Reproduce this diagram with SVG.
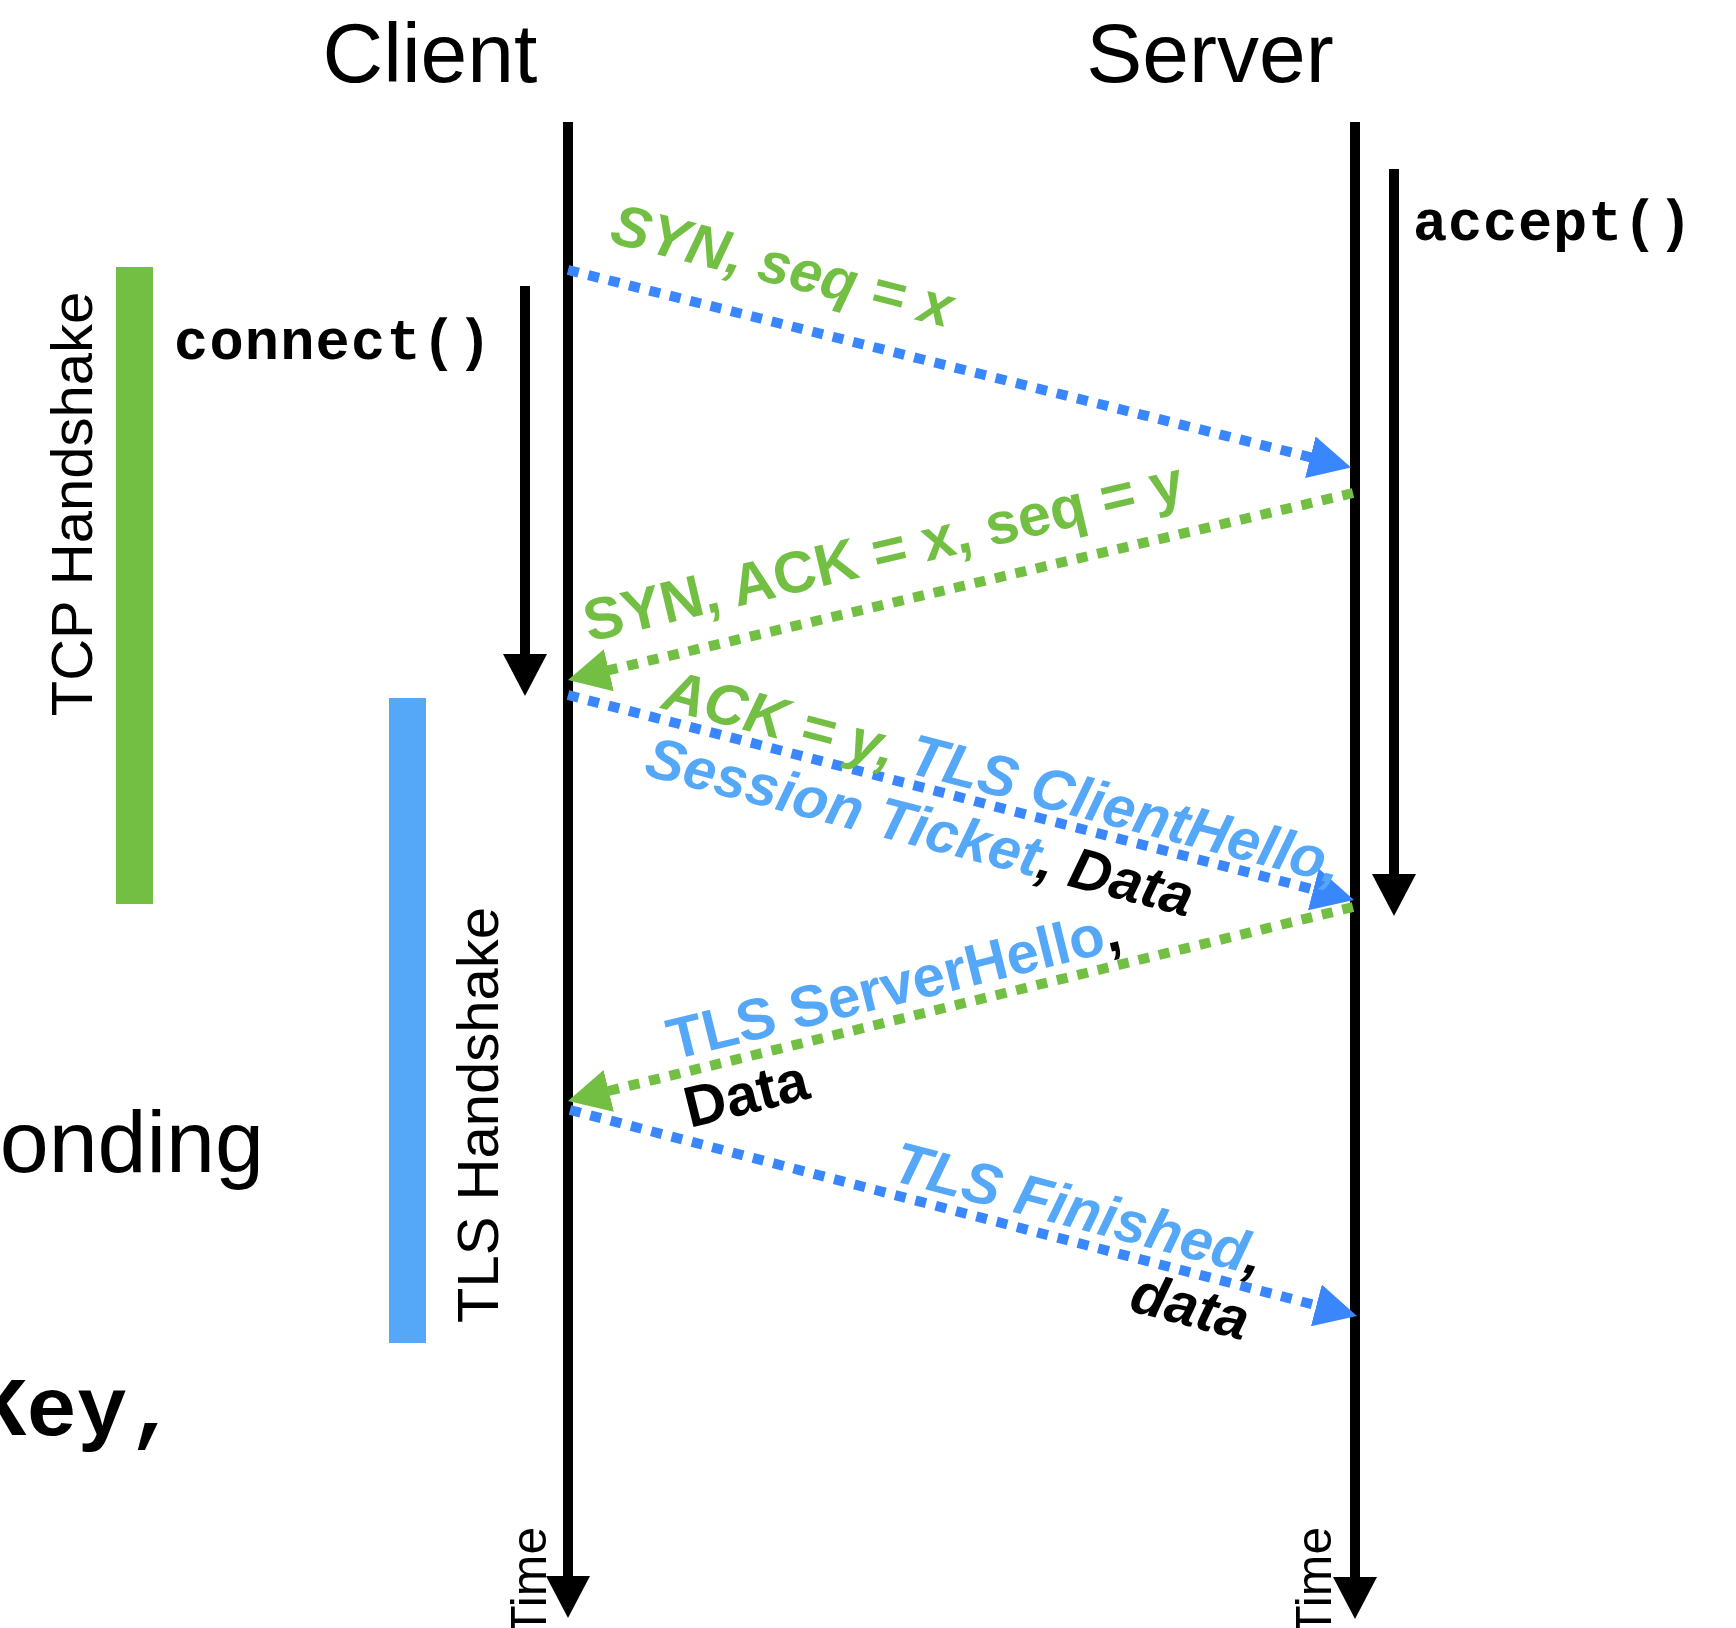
<svg xmlns="http://www.w3.org/2000/svg" width="1736" height="1628" viewBox="0 0 1736 1628">
<defs>
<style>
.sans{font-family:"Liberation Sans",Arial,Helvetica,sans-serif}
.mono{font-family:"Liberation Mono","Courier New",monospace;font-weight:bold}
.lbl{font-family:"Liberation Sans",Arial,Helvetica,sans-serif;font-weight:bold;font-size:58px}
.it{font-style:italic}
.g{fill:#72BF44}
.b{fill:#55A8F8}
.k{fill:#000000}
.life{stroke:#000000;stroke-width:10;fill:none}
.msg{fill:none;stroke-width:10;stroke-dasharray:11 10}
.mb{stroke:#3A87FD}
.mg{stroke:#72BF44}
</style>
<marker id="hb" markerUnits="userSpaceOnUse" markerWidth="42" markerHeight="43" viewBox="0 0 42 43" refX="2" refY="21.5" orient="auto"><path d="M0,0 L42,21.5 L0,43 Z" fill="#3A87FD"/></marker>
<marker id="hg" markerUnits="userSpaceOnUse" markerWidth="42" markerHeight="43" viewBox="0 0 42 43" refX="2" refY="21.5" orient="auto"><path d="M0,0 L42,21.5 L0,43 Z" fill="#72BF44"/></marker>
<marker id="hk" markerUnits="userSpaceOnUse" markerWidth="42" markerHeight="44" viewBox="0 0 42 44" refX="2" refY="22" orient="auto"><path d="M0,0 L42,22 L0,44 Z" fill="#000000"/></marker>
</defs>
<rect width="1736" height="1628" fill="#FFFFFF"/>

<g id="client">
<text class="sans" x="430" y="82" font-size="84" text-anchor="middle">Client</text>
<path class="life" d="M568,122 V1578" marker-end="url(#hk)"/>
<text class="sans" font-size="50" transform="translate(546,1636) rotate(-90)">Time</text>
</g>
<g id="server">
<text class="sans" x="1210" y="82" font-size="84" text-anchor="middle">Server</text>
<path class="life" d="M1355,122 V1579" marker-end="url(#hk)"/>
<text class="sans" font-size="50" transform="translate(1331,1636) rotate(-90)">Time</text>
</g>

<g id="tcp-handshake">
<rect x="116" y="267" width="37" height="637" fill="#72BF44"/>
<text class="sans" font-size="58" text-anchor="middle" transform="translate(92,504) rotate(-90)">TCP Handshake</text>
</g>
<g id="tls-handshake">
<rect x="389" y="698" width="37" height="645" fill="#55A8F8"/>
<text class="sans" font-size="58" text-anchor="middle" transform="translate(498,1115) rotate(-90)">TLS Handshake</text>
</g>

<g id="connect">
<text class="mono" x="174" y="359" font-size="57" letter-spacing="1.2">connect()</text>
<path class="life" d="M525,286 V656" marker-end="url(#hk)"/>
</g>
<g id="accept">
<text class="mono" x="1413" y="240" font-size="57" letter-spacing="0.8">accept()</text>
<path class="life" d="M1394,169 V876" marker-end="url(#hk)"/>
</g>

<g id="background-text">
<text class="sans" x="264" y="1172" font-size="88" text-anchor="end">onding</text>
<text class="mono" x="-24" y="1435" font-size="84">Key,</text>
</g>

<g id="connectors">
<path class="msg mb" d="M568,270 L1312.3,457.7" marker-end="url(#hb)"/>
<path class="msg mg" d="M1353,493 L606.9,670.7" marker-end="url(#hg)"/>
<path class="msg mb" d="M568,695 L1315.3,889.9" marker-end="url(#hb)"/>
<path class="msg mg" d="M1353,907 L606.8,1091.4" marker-end="url(#hg)"/>
<path class="msg mb" d="M570,1110 L1318.3,1305.9" marker-end="url(#hb)"/>
</g>

<g id="label-syn">
<text class="lbl it g" transform="translate(608,242) rotate(14.16)">SYN, seq = x</text>
</g>
<g id="label-synack">
<text class="lbl g" font-size="59" transform="translate(589,642) rotate(-13.4)" style="font-size:59px">SYN, ACK = x, seq = y</text>
</g>
<g id="label-clienthello" transform="translate(660,708) rotate(14.62)">
<text class="lbl it" x="0" y="0"><tspan class="g">ACK = y,</tspan><tspan class="b"> TLS ClientHello,</tspan></text>
<text class="lbl it" x="0" y="69"><tspan class="b">Session Ticket</tspan><tspan class="k">, Data</tspan></text>
</g>
<g id="label-serverhello" transform="translate(673,1060) rotate(-13.88)">
<text class="lbl" x="0" y="0"><tspan class="b">TLS ServerHello</tspan><tspan class="k">,</tspan></text>
<text class="lbl k" x="0" y="70">Data</text>
</g>
<g id="label-finished" transform="translate(890,1180) rotate(14.65)">
<text class="lbl it" x="0" y="0"><tspan class="b">TLS Finished</tspan><tspan class="k">,</tspan></text>
<text class="lbl it k" x="382" y="66" text-anchor="end">data</text>
</g>
</svg>
